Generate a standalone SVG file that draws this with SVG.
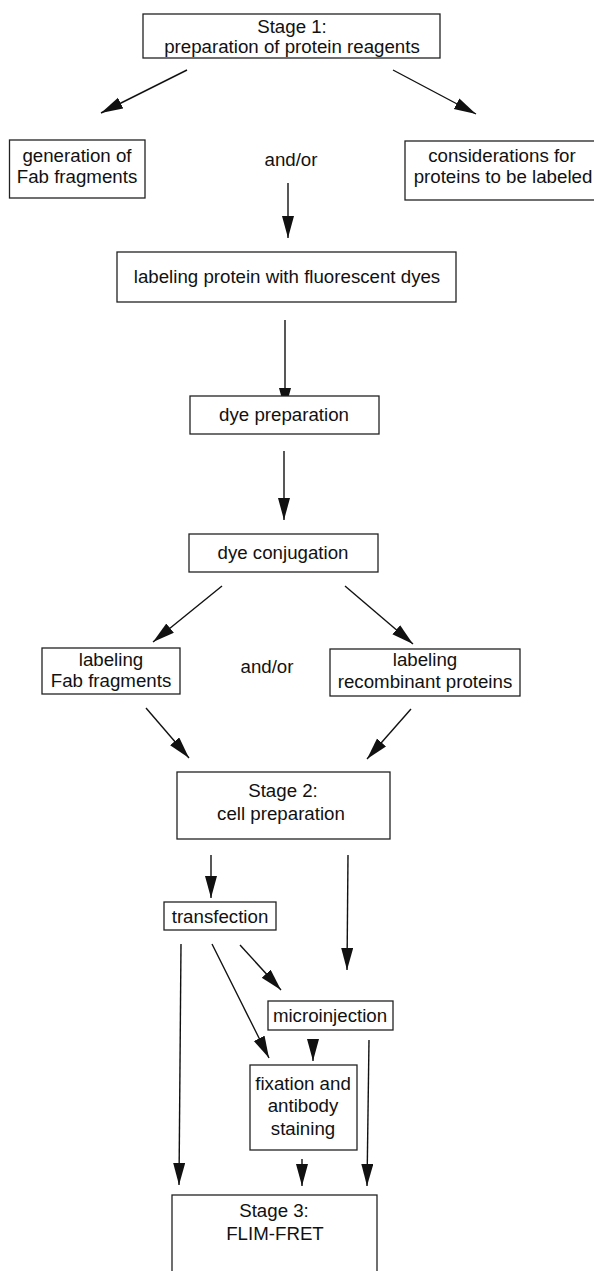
<svg xmlns="http://www.w3.org/2000/svg" width="594" height="1271" viewBox="0 0 594 1271">
<style>
.box{fill:#fff;stroke:#222;stroke-width:1.3}
.t{font-family:"Liberation Sans",Arial,sans-serif;font-size:18.7px;fill:#111;text-anchor:middle}
.c{fill:none;stroke:#111;stroke-width:1.4}
</style>
<defs>
<marker id="ah" markerUnits="userSpaceOnUse" markerWidth="24" markerHeight="14" refX="22" refY="6" orient="auto">
<path d="M0,0 L22,6 L0,12 z" fill="#111"/>
</marker>
</defs>
<rect width="594" height="1271" fill="#fff"/>
<g id="connectors">
<line class="c" x1="187" y1="70" x2="101" y2="113" marker-end="url(#ah)"/>
<line class="c" x1="393" y1="70" x2="476" y2="114" marker-end="url(#ah)"/>
<line class="c" x1="288" y1="183" x2="288" y2="238" marker-end="url(#ah)"/>
<line class="c" x1="285" y1="320" x2="285" y2="410" marker-end="url(#ah)"/>
<line class="c" x1="284" y1="451" x2="284" y2="520" marker-end="url(#ah)"/>
<line class="c" x1="222" y1="586" x2="153" y2="642" marker-end="url(#ah)"/>
<line class="c" x1="345" y1="586" x2="413" y2="644" marker-end="url(#ah)"/>
<line class="c" x1="146" y1="708" x2="189" y2="758" marker-end="url(#ah)"/>
<line class="c" x1="411" y1="709" x2="367" y2="759" marker-end="url(#ah)"/>
<line class="c" x1="211" y1="855" x2="211" y2="898" marker-end="url(#ah)"/>
<line class="c" x1="348" y1="855" x2="347" y2="970" marker-end="url(#ah)"/>
<line class="c" x1="181" y1="944" x2="179" y2="1185" marker-end="url(#ah)"/>
<line class="c" x1="212" y1="944" x2="269" y2="1058" marker-end="url(#ah)"/>
<line class="c" x1="240" y1="945" x2="281" y2="990" marker-end="url(#ah)"/>
<line class="c" x1="313" y1="1040" x2="313" y2="1061" marker-end="url(#ah)"/>
<line class="c" x1="369" y1="1040" x2="367" y2="1186" marker-end="url(#ah)"/>
<line class="c" x1="302" y1="1159" x2="302" y2="1186" marker-end="url(#ah)"/>
</g>
<g id="stage1">
<rect class="box" x="143" y="14" width="297" height="44"/>
<text class="t" x="292" y="33">Stage 1:</text>
<text class="t" x="292" y="53">preparation of protein reagents</text>
</g>
<g id="fab-generation">
<rect class="box" x="9.5" y="140" width="135.5" height="58"/>
<text class="t" x="77" y="162">generation of</text>
<text class="t" x="77" y="183">Fab fragments</text>
</g>
<g id="andor1">
<text class="t" x="291" y="166">and/or</text>
</g>
<g id="considerations">
<rect class="box" x="405" y="141" width="195" height="59"/>
<text class="t" x="502" y="162">considerations for</text>
<text class="t" x="503" y="183">proteins to be labeled</text>
</g>
<g id="labeling-protein">
<rect class="box" x="117" y="252" width="339" height="50"/>
<text class="t" x="287" y="283">labeling protein with fluorescent dyes</text>
</g>
<g id="dye-preparation">
<rect class="box" x="190" y="396" width="189" height="38"/>
<text class="t" x="284" y="421">dye preparation</text>
</g>
<g id="dye-conjugation">
<rect class="box" x="189" y="534" width="189" height="38"/>
<text class="t" x="283" y="559">dye conjugation</text>
</g>
<g id="labeling-fab">
<rect class="box" x="42" y="648" width="138" height="46"/>
<text class="t" x="111" y="666">labeling</text>
<text class="t" x="111" y="687">Fab fragments</text>
</g>
<g id="andor2">
<text class="t" x="267" y="673">and/or</text>
</g>
<g id="labeling-recombinant">
<rect class="box" x="330" y="649" width="190" height="47"/>
<text class="t" x="425" y="666">labeling</text>
<text class="t" x="425" y="688">recombinant proteins</text>
</g>
<g id="stage2">
<rect class="box" x="177" y="772" width="213" height="67"/>
<text class="t" x="283" y="797">Stage 2:</text>
<text class="t" x="281" y="820">cell preparation</text>
</g>
<g id="transfection">
<rect class="box" x="164" y="902" width="112" height="28"/>
<text class="t" x="220" y="923">transfection</text>
</g>
<g id="microinjection">
<rect class="box" x="268" y="1001" width="125" height="29"/>
<text class="t" x="330" y="1022">microinjection</text>
</g>
<g id="fixation">
<rect class="box" x="250" y="1065" width="107" height="85"/>
<text class="t" x="303" y="1090">fixation and</text>
<text class="t" x="303" y="1112">antibody</text>
<text class="t" x="303" y="1135">staining</text>
</g>
<g id="stage3">
<rect class="box" x="172" y="1195" width="205" height="90"/>
<text class="t" x="274" y="1217">Stage 3:</text>
<text class="t" x="275" y="1240">FLIM-FRET</text>
</g>
</svg>
